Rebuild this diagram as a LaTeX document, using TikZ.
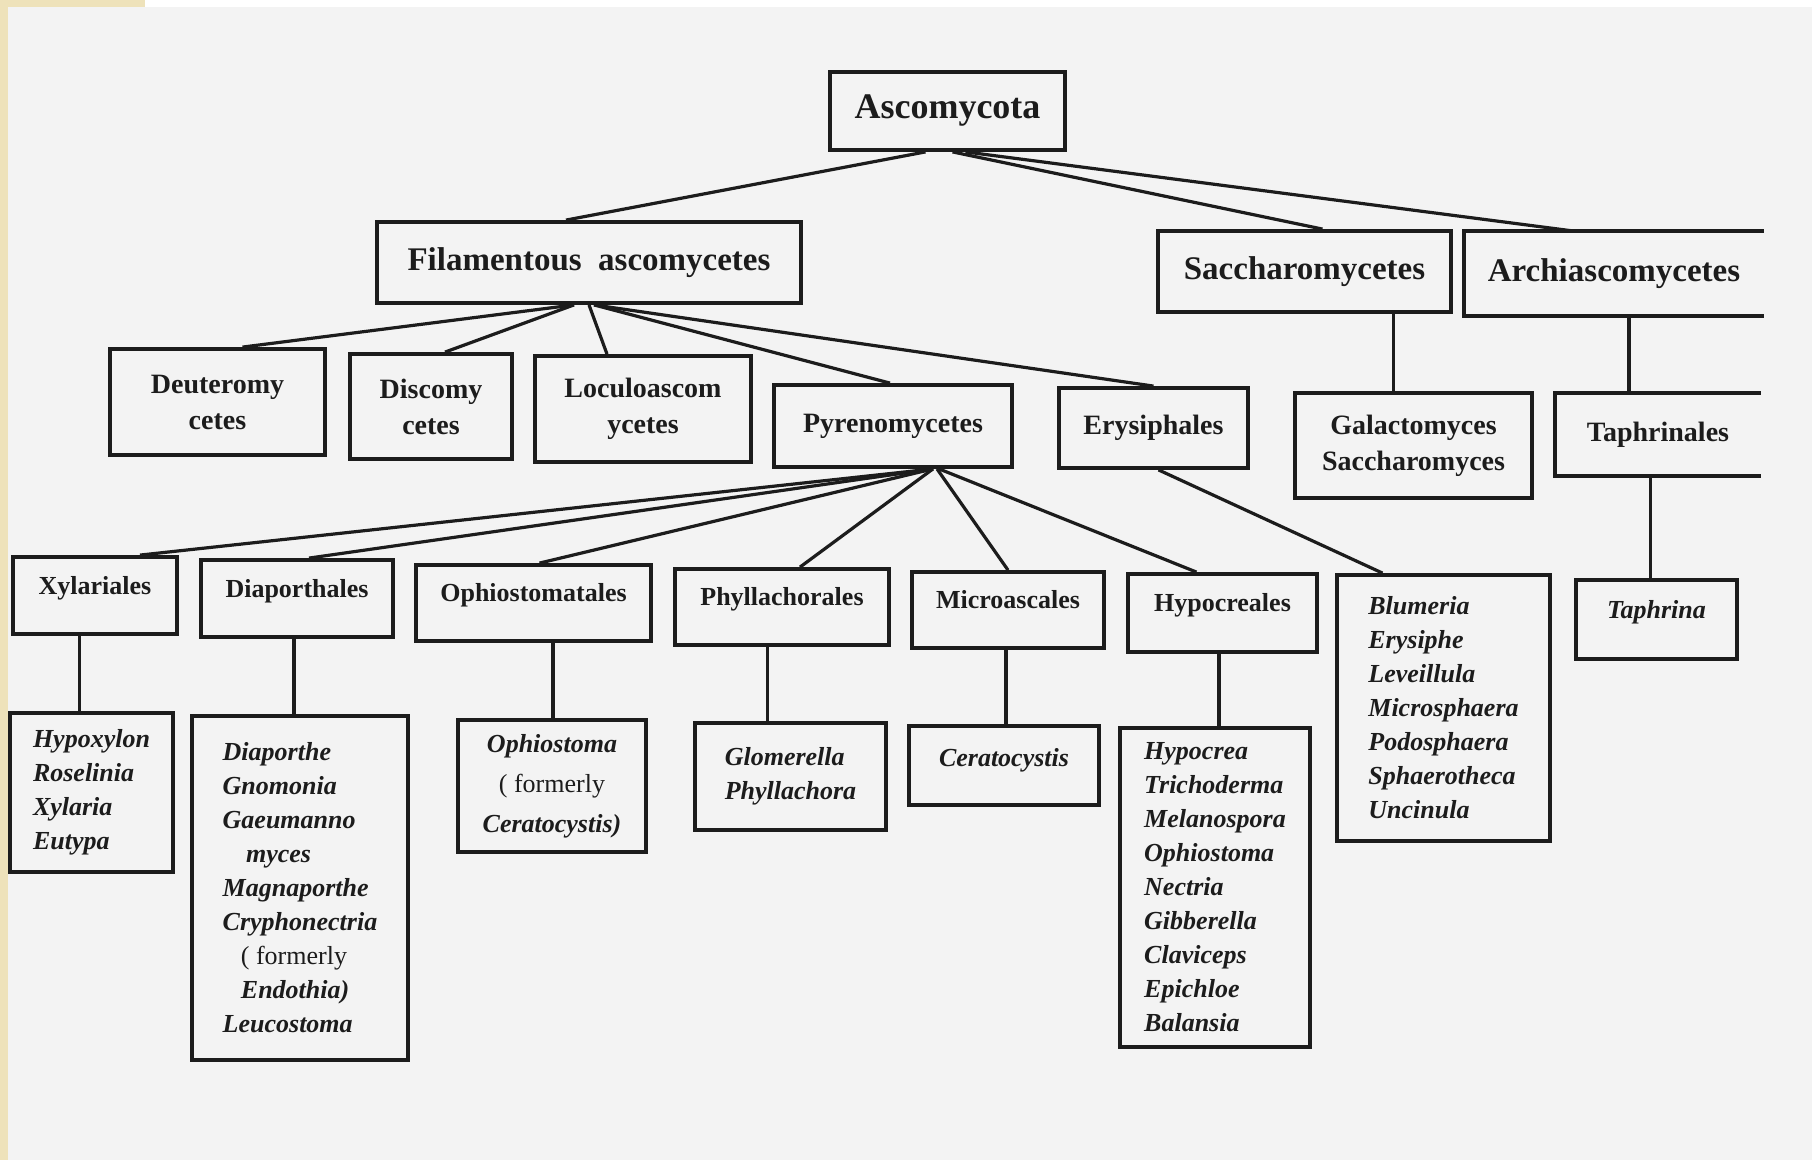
\documentclass[tikz,border=0pt]{standalone}
\usepackage{fontspec}
\setmainfont{Liberation Serif}
\usetikzlibrary{calc}
\definecolor{paper_gray}{RGB}{243,243,243}
\definecolor{paper_edge}{RGB}{238,226,186}
\definecolor{ink}{RGB}{28,28,28}
\newcommand\frmly{{\upshape\mdseries ( formerly}}

\begin{document}
\begin{tikzpicture}[x=0.5pt,y=-0.5pt,line width=1.6pt,draw=ink]
    \tikzstyle{box}=[draw=ink, line width=1.9pt, rectangle, inner sep=2pt, text=ink, align=center]
    \tikzstyle{phylbox}=[style=box, font=\fontsize{18}{21}\selectfont\bfseries]
    \tikzstyle{clsbox}=[style=box, font=\fontsize{16.5}{20}\selectfont\bfseries]
    \tikzstyle{subbox}=[style=box, font=\fontsize{14}{18}\selectfont\bfseries]
    \tikzstyle{ordbox}=[style=box, text height=9pt, text depth=10pt, font=\fontsize{13}{17}\selectfont\bfseries]
    \tikzstyle{genbox}=[style=box, align=left, font=\fontsize{13}{17}\selectfont\bfseries\itshape]
    \tikzstyle{openbox}=[draw=none]

    % paper
    \fill[paper_gray] (0,0) rectangle (1812,1160);
    \fill[white] (145,0) rectangle (1812,7);
    \fill[paper_edge] (0,0) rectangle (8,1160);
    \fill[paper_edge] (0,0) rectangle (145,7);
    \useasboundingbox (0,0) rectangle (1812,1160);

    % phylum and classes
    \node[phylbox, minimum width=117.5pt, minimum height=39pt] (asc) at (947.5,111) {Ascomycota};
    \node[clsbox, minimum width=212pt, minimum height=40.5pt] (fil) at (589,262.5) {Filamentous\ \ ascomycetes};
    \node[clsbox, minimum width=146.5pt, minimum height=40.5pt] (sac) at (1304.5,271.5) {Saccharomycetes};
    \node[clsbox, openbox, minimum width=148pt, minimum height=40.5pt] (arc) at (1614,273.5) {Archiascomycetes};

    % subclasses
    \node[subbox, minimum width=107.5pt, minimum height=53pt] (deu) at (217.5,402) {Deuteromy\\cetes};
    \node[subbox, minimum width=81pt, minimum height=52.5pt] (dis) at (431,406.5) {Discomy\\cetes};
    \node[subbox, minimum width=108pt, minimum height=53pt] (loc) at (643,409) {Loculoascom\\ycetes};
    \node[subbox, minimum width=119pt, minimum height=41pt] (pyr) at (893,426) {Pyrenomycetes};
    \node[subbox, minimum width=94.5pt, minimum height=40pt] (ery) at (1153.5,428) {Erysiphales};
    \node[subbox, minimum width=118.5pt, minimum height=52.5pt] (gal) at (1413.5,445.5) {Galactomyces\\Saccharomyces};
    \node[subbox, openbox, minimum width=101pt, minimum height=39.5pt] (tap) at (1658,434.5) {Taphrinales};

    % orders
    \node[ordbox, minimum width=82pt, minimum height=38.5pt] (xyl) at (95,595.5) {Xylariales};
    \node[ordbox, minimum width=96pt, minimum height=38.5pt] (dia) at (297,598.5) {Diaporthales};
    \node[ordbox, minimum width=117.5pt, minimum height=38pt] (oph) at (533.5,603) {Ophiostomatales};
    \node[ordbox, minimum width=107pt, minimum height=38pt] (phy) at (782,607) {Phyllachorales};
    \node[ordbox, minimum width=96pt, minimum height=38pt] (mic) at (1008,610) {Microascales};
    \node[ordbox, minimum width=94.5pt, minimum height=39pt] (hyp) at (1222.5,613) {Hypocreales};
    \node[genbox, minimum width=106.5pt, minimum height=133pt] (blu) at (1443.5,708)
        {Blumeria\\Erysiphe\\Leveillula\\Microsphaera\\Podosphaera\\Sphaerotheca\\Uncinula};
    \node[genbox, text height=9pt, text depth=10pt, minimum width=80.5pt, minimum height=39.5pt] (tpa) at (1656.5,619.5) {Taphrina};

    % genera
    \node[genbox, minimum width=81.5pt, minimum height=79.5pt] (hxl) at (91.5,792.5)
        {Hypoxylon\\Roselinia\\Xylaria\\Eutypa};
    \node[genbox, minimum width=108pt, minimum height=172pt] (dpt) at (300,888)
        {Diaporthe\\Gnomonia\\Gaeumanno\\\hspace*{0.9em}myces\\Magnaporthe\\Cryphonectria\\\hspace*{0.7em}\frmly\\\hspace*{0.7em}Endothia)\\Leucostoma};
    \node[genbox, align=center, minimum width=94pt, minimum height=66pt] (ost) at (552,786)
        {Ophiostoma\\[3pt]\frmly\\[3pt]Ceratocystis)};
    \node[genbox, minimum width=95.5pt, minimum height=53.5pt] (glo) at (790.5,776.5) {Glomerella\\Phyllachora};
    \node[genbox, text height=9pt, text depth=8pt, minimum width=95pt, minimum height=39.5pt] (cer) at (1004,765.5) {Ceratocystis};
    \node[genbox, minimum width=95pt, minimum height=159.5pt] (hcr) at (1215,887.5)
        {Hypocrea\\Trichoderma\\Melanospora\\Ophiostoma\\Nectria\\Gibberella\\Claviceps\\Epichloe\\Balansia};

    % boxes cut at the right edge
    \draw[line width=1.9pt] (arc.north east) -- (arc.north west) -- (arc.south west) -- (arc.south east);
    \draw[line width=1.9pt] (tap.north east) -- (tap.north west) -- (tap.south west) -- (tap.south east);

    % slanted connectors
    \draw ($(asc.south)+(-22,0)$) -- ($(fil.north)+(-23,0)$);
    \draw ($(asc.south)+(5,0)$)   -- ($(sac.north)+(18,0)$);
    \draw ($(asc.south)+(18,0)$)  -- ($(arc.north)+(-40,0)$);
    \draw ($(fil.south)+(-15,0)$) -- ($(deu.north)+(25,0)$);
    \draw ($(fil.south)+(-15,0)$) -- ($(dis.north)+(14,0)$);
    \draw (fil.south)             -- ($(loc.north)+(-36,0)$);
    \draw ($(fil.south)+(5,0)$)   -- ($(pyr.north)+(-3,0)$);
    \draw ($(fil.south)+(5,0)$)   -- (ery.north);
    \draw ($(pyr.south)+(40,0)$)  -- ($(xyl.north)+(45,0)$);
    \draw ($(pyr.south)+(40,0)$)  -- ($(dia.north)+(12,0)$);
    \draw ($(pyr.south)+(40,0)$)  -- ($(oph.north)+(6,0)$);
    \draw ($(pyr.south)+(40,0)$)  -- ($(phy.north)+(18,0)$);
    \draw ($(pyr.south)+(44,0)$)  -- (mic.north);
    \draw ($(pyr.south)+(46,0)$)  -- ($(hyp.north)+(-26,0)$);
    \draw ($(ery.south)+(5,0)$)   -- ($(blu.north)+(-61,0)$);

    % vertical connectors
    \foreach \up/\dn/\dx in {sac/gal/-20, arc/tap/-29, tap/tpa/-6, xyl/hxl/-12, dia/dpt/-6,
                             oph/ost/1, phy/glo/-23, mic/cer/2, hyp/hcr/4} {
        \coordinate (foot) at ($(\dn.north)+(\dx,0)$);
        \draw (foot) -- (foot |- \up.south);
    }
\end{tikzpicture}
\end{document}
